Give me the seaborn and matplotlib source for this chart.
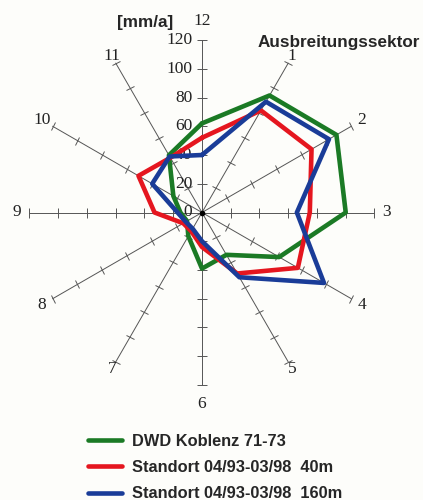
import numpy as np
import pandas as pd
import matplotlib
matplotlib.use("Agg")
import matplotlib.pyplot as plt
from matplotlib.lines import Line2D
from matplotlib.markers import MarkerStyle
from matplotlib.transforms import Affine2D, offset_copy
import seaborn as sns

# Sector labels (clock layout, 12 at the top) and annual values in mm/a
sectors = ["12", "1", "2", "3", "4", "5", "6", "7", "8", "9", "10", "11"]
dwd_koblenz = [62, 94, 108, 100, 62, 34, 39, 19, 12, 15, 23, 46]
standort_40m = [52, 82, 88, 75, 77, 49, 24, 15, 15, 33, 51, 44]
standort_160m = [40, 89, 102, 66, 98, 52, 20, 13, 13, 17, 40, 45]
series_names = ["DWD Koblenz 71-73",
                "Standort 04/93-03/98  40m",
                "Standort 04/93-03/98  160m"]
radial_ticks = [0, 20, 40, 60, 80, 100, 120]
colors = ["#1b7a25", "#e5161f", "#1a3c98"]

sns.set_style("white")
plt.rcParams["font.family"] = ["Liberation Sans", "DejaVu Sans"]
serif = ["Liberation Serif", "DejaVu Serif"]

fig = plt.figure(figsize=(4.23, 5.0), dpi=100)
fig.patch.set_facecolor("#fdfdfa")
ax = fig.add_axes([0.0697, 0.23, 0.8156, 0.69], projection="polar")
ax.set_theta_zero_location("N")
ax.set_theta_direction(-1)
ax.set_facecolor("none")
ax.set_ylim(0, 120)
ax.grid(False)
ax.spines["polar"].set_visible(False)
ax.set_xticks([])
ax.set_yticks([])

n = len(sectors)
angles_deg = np.arange(n) * 360.0 / n
theta = np.deg2rad(angles_deg)

# Spokes with perpendicular tick marks every 20 mm/a
for deg, th in zip(angles_deg, theta):
    ax.plot([th, th], [0, 120], color="#555555", lw=0.7, zorder=1, clip_on=False)
    tick = MarkerStyle("_", transform=Affine2D().rotate_deg(-deg))
    r_ticks = radial_ticks[1:]
    ax.plot([th] * len(r_ticks), r_ticks, linestyle="none", marker=tick,
            markersize=7, markeredgewidth=0.7, color="#555555",
            zorder=1, clip_on=False)

ax.plot([0], [0], marker="o", markersize=3, color="black", zorder=2)

# Radial scale labels along the 12 spoke
lab_tf = offset_copy(ax.transData, fig=fig, x=-7, y=0, units="points")
for r in radial_ticks:
    ax.text(0, r, str(r), transform=lab_tf, ha="right", va="center",
            family=serif, fontsize=12.5, color="#222222", zorder=1)

# Sector numbers beyond the spoke ends (a bit further out on the vertical axis)
for lab, deg, th in zip(sectors, angles_deg, theta):
    if deg % 180 == 0:
        r_lab = 133
    elif deg % 180 in (30, 150):
        r_lab = 125.5
    else:
        r_lab = 128.5
    ax.text(th, r_lab, lab, ha="center", va="center", family=serif,
            fontsize=12.5, color="#222222")

# Closed polygons per series
rows = []
for name, vals in zip(series_names, [dwd_koblenz, standort_40m, standort_160m]):
    th_closed = list(theta) + [theta[0] + 2 * np.pi]
    v_closed = list(vals) + [vals[0]]
    for t, v in zip(th_closed, v_closed):
        rows.append({"theta": t, "value": v, "series": name})
df = pd.DataFrame(rows)

sns.lineplot(data=df, x="theta", y="value", hue="series",
             hue_order=series_names, palette=colors, sort=False,
             estimator=None, lw=3.3, ax=ax, legend=False, zorder=3)
ax.set_xlabel("")
ax.set_ylabel("")
ax.set_ylim(0, 120)

fig.text(145 / 423, 1 - 22.5 / 500, "[mm/a]", ha="center", va="center",
         fontweight="bold", fontsize=12.3)
fig.text(339 / 423, 1 - 42 / 500, "Ausbreitungssektor", ha="center",
         va="center", fontweight="bold", fontsize=12.3)

handles = [Line2D([0], [0], color=c, lw=3.3) for c in colors]
fig.legend(handles, series_names, loc="upper left",
           bbox_to_anchor=(88 / 423, 1 - 434 / 500), frameon=False,
           borderpad=0, borderaxespad=0, handlelength=2.1,
           handletextpad=0.6, labelspacing=0.68,
           prop={"weight": "bold", "size": 11.8})

fig.savefig("out.png", dpi=100, facecolor=fig.get_facecolor())
